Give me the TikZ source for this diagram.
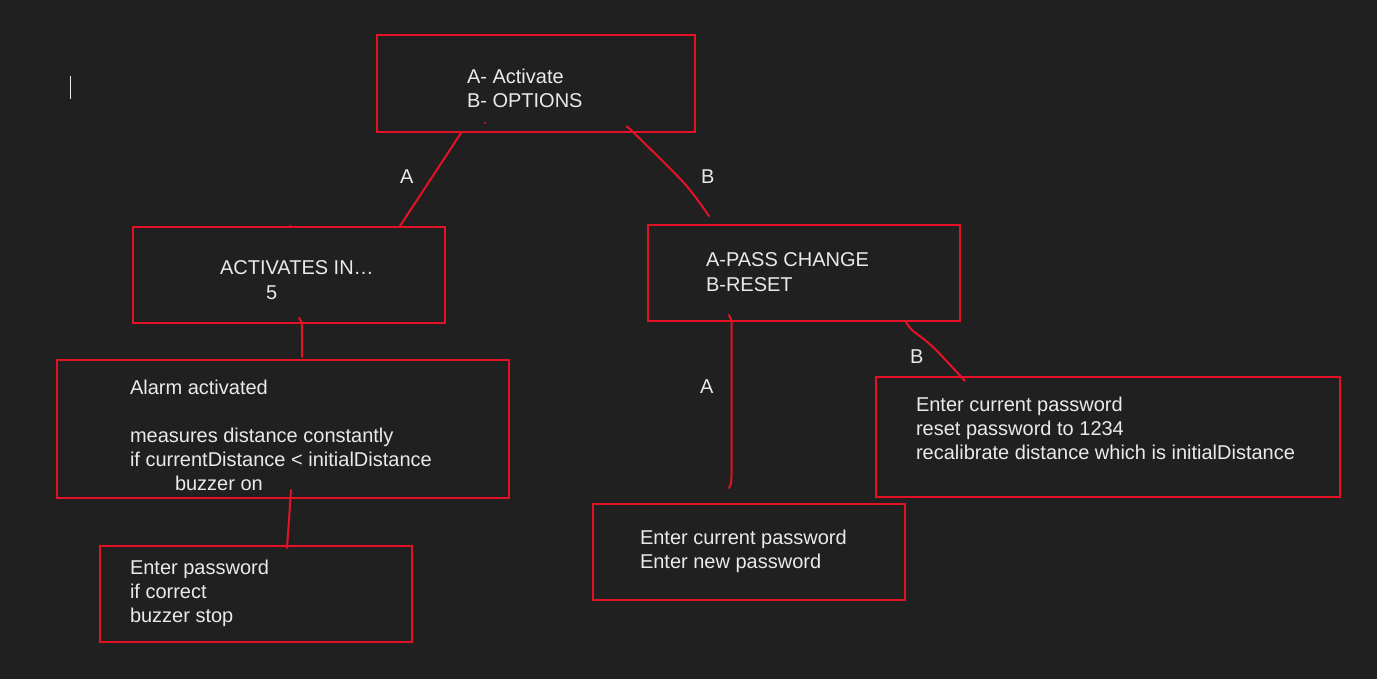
\documentclass[tikz,border=0pt]{standalone}
\usepackage{fontspec}
\setmainfont{Liberation Sans}
\definecolor{bg}{RGB}{33,32,32}
\definecolor{rd}{RGB}{228,18,38}
\definecolor{fg}{RGB}{234,234,234}
\begin{document}
\begin{tikzpicture}[x=1pt,y=-1pt,
  box/.style={draw=rd, line width=2.5pt, anchor=north west, inner sep=0pt, outer sep=0pt, rectangle},
  txt/.style={text=fg, anchor=base west, inner sep=0pt, outer sep=0pt, font=\fontsize{20}{24}\selectfont},
  wire/.style={draw=rd, line width=2pt, line cap=round, line join=round}]
\fill[bg] (0,0) rectangle (1377,679);
\useasboundingbox (0,0) rectangle (1377,679);
% boxes
\node[box, minimum width=318pt, minimum height=97pt] (menu) at (377,35) {};
\node[box, minimum width=312pt, minimum height=96pt] (act) at (133,227) {};
\node[box, minimum width=312pt, minimum height=96pt] (opt) at (648,225) {};
\node[box, minimum width=452pt, minimum height=138pt] (alarm) at (57,360) {};
\node[box, minimum width=312pt, minimum height=96pt] (stop) at (100,546) {};
\node[box, minimum width=312pt, minimum height=96pt] (chg) at (593,504) {};
\node[box, minimum width=464pt, minimum height=120pt] (rst) at (876,377) {};
% texts
\node[txt] (m1) at (467,84) {A- Activate};
\node[txt] (m2) at (467,108) {B- OPTIONS};
\node[txt] (a1) at (220,275) {ACTIVATES IN…};
\node[txt] (a2) at (266,299) {5};
\node[txt] (o1) at (706,267) {A-PASS CHANGE};
\node[txt] (o2) at (706,291) {B-RESET};
\node[txt] (l1) at (130,394) {Alarm activated};
\node[txt] (l2) at (130,442) {measures distance constantly};
\node[txt] (l3) at (130,466) {if currentDistance < initialDistance};
\node[txt] (l4) at (175,490) {buzzer on};
\node[txt] (s1) at (130,574) {Enter password};
\node[txt] (s2) at (130,598) {if correct};
\node[txt] (s3) at (130,622) {buzzer stop};
\node[txt] (c1) at (640,544) {Enter current password};
\node[txt] (c2) at (640,568) {Enter new password};
\node[txt] (r1) at (916,411) {Enter current password};
\node[txt] (r2) at (916,435) {reset password to 1234};
\node[txt] (r3) at (916,459) {recalibrate distance which is initialDistance};
% edge labels
\node[txt] (la) at (400,184) {A};
\node[txt] (lb) at (701,184) {B};
\node[txt] (la2) at (700,393) {A};
\node[txt] (lb2) at (910,363) {B};
% connector end points
\coordinate (pA1) at (461,133);
\coordinate (pA2) at (400,226);
\coordinate (pB1) at (627,127);
\coordinate (pB2) at (709,216);
\coordinate (pC1) at (299,318);
\coordinate (pC2) at (302,357);
\coordinate (pD1) at (291,490);
\coordinate (pD2) at (287,548);
\coordinate (pE1) at (729,315);
\coordinate (pE2) at (729,488);
\coordinate (pF1) at (906,322);
\coordinate (pF2) at (965,381);
% connectors
\draw[wire] (pA1) -- (pA2);
\draw[wire] plot[smooth, tension=0.5] coordinates {(pB1) (633,132) (684,183) (pB2)};
\draw[wire] (pC1) .. controls (302,321) .. (302,332) -- (pC2);
\draw[wire] (pD1) .. controls (289,520) .. (pD2);
\draw[wire] (pE1) .. controls (732,321) .. (731.5,340) -- (731.5,470) .. controls (731.5,483) .. (pE2);
\draw[wire] plot[smooth, tension=0.5] coordinates {(pF1) (912,330) (933,347) (pF2)};
% small marks
\fill[rd] (485,123) circle (1.2pt);
\fill[rd] (290,226) circle (1.2pt);
\draw[fg, line width=1pt] (70,76) -- (70,99);
\end{tikzpicture}
\end{document}
